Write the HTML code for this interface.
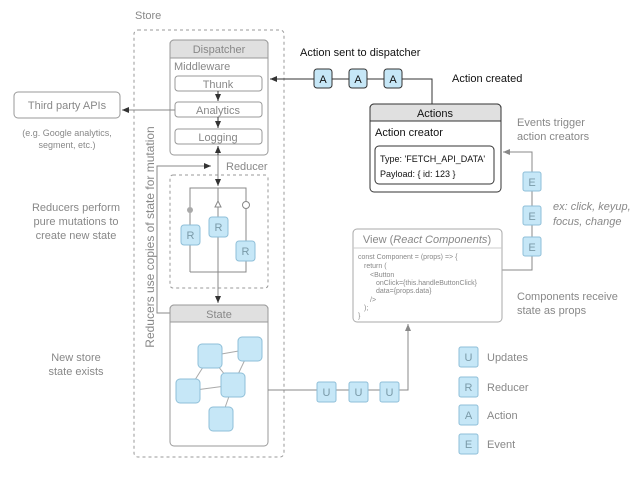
<!DOCTYPE html>
<html><head><meta charset="utf-8"><style>
html,body{margin:0;padding:0;background:#fff}
svg{display:block}
text{font-family:"Liberation Sans",sans-serif}
</style></head><body>
<svg width="642" height="480" viewBox="0 0 642 480" xmlns="http://www.w3.org/2000/svg">
<defs>
<marker id="ar" markerWidth="8" markerHeight="8" refX="7" refY="4" orient="auto" markerUnits="userSpaceOnUse"><path d="M0,1 L7,4 L0,7 z" fill="#333"/></marker>
<marker id="arg" markerWidth="8" markerHeight="8" refX="7" refY="4" orient="auto" markerUnits="userSpaceOnUse"><path d="M0,1 L7,4 L0,7 z" fill="#888"/></marker>
</defs>
<g fill="none" stroke="#999" stroke-width="1">
<rect x="134" y="30" width="150" height="427" rx="4" stroke-dasharray="3,3"/>
<rect x="170" y="175" width="98" height="113" rx="3" stroke-dasharray="3,3"/>
</g>
<text x="135" y="19" font-size="11" fill="#888">Store</text>

<!-- Dispatcher -->
<rect x="170" y="40" width="98" height="115" rx="4" fill="#fff" stroke="#999"/>
<path d="M170,58 V44 a4,4 0 0 1 4,-4 H264 a4,4 0 0 1 4,4 V58 z" fill="#e0e0e0" stroke="#999"/>
<text x="219" y="53" font-size="11" fill="#888" text-anchor="middle">Dispatcher</text>
<text x="174" y="70" font-size="11" fill="#888">Middleware</text>
<g fill="#fff" stroke="#999">
<rect x="175" y="76" width="87" height="15" rx="3"/>
<rect x="175" y="102" width="87" height="15" rx="3"/>
<rect x="175" y="129" width="87" height="15" rx="3"/>
</g>
<g font-size="11" fill="#888" text-anchor="middle">
<text x="218" y="88">Thunk</text><text x="218" y="114">Analytics</text><text x="218" y="141">Logging</text>
</g>
<line x1="218" y1="91" x2="218" y2="101" stroke="#333" marker-end="url(#ar)"/>
<line x1="218" y1="117" x2="218" y2="128" stroke="#333" marker-end="url(#ar)"/>

<!-- third party -->
<rect x="14" y="92" width="106" height="26" rx="4" fill="#fff" stroke="#999"/>
<text x="67" y="109" font-size="11" fill="#888" text-anchor="middle">Third party APIs</text>
<text x="67" y="136" font-size="9" fill="#888" text-anchor="middle">(e.g. Google analytics,</text>
<text x="67" y="148" font-size="9" fill="#888" text-anchor="middle">segment, etc.)</text>
<line x1="175" y1="110" x2="122" y2="110" stroke="#888" marker-end="url(#ar)"/>

<g font-size="11" fill="#888" text-anchor="middle">
<text x="76" y="211">Reducers perform</text><text x="76" y="225">pure mutations to</text><text x="76" y="239">create new state</text>
<text x="76" y="361">New store</text><text x="76" y="375">state exists</text>
</g>
<text transform="translate(154,237) rotate(-90)" font-size="12" fill="#888" text-anchor="middle">Reducers use copies of state for mutation</text>

<!-- Reducer -->
<line x1="218" y1="155" x2="218" y2="146" stroke="#333" marker-end="url(#ar)"/>
<line x1="218" y1="155" x2="218" y2="186" stroke="#888" marker-end="url(#ar)"/>
<polyline points="170,313 157,313 157,166 211,166" fill="none" stroke="#888" marker-end="url(#ar)"/>
<text x="226" y="170" font-size="11" fill="#888">Reducer</text>
<g fill="none" stroke="#888">
<polyline points="190,272 190,188 246,188 246,272 190,272"/>
<line x1="218" y1="188" x2="218" y2="303" marker-end="url(#ar)"/>
</g>
<circle cx="190" cy="210" r="3" fill="#aaa"/>
<path d="M215,207 L218,201 L221,207 z" fill="#fff" stroke="#888"/>
<circle cx="246" cy="205" r="3.5" fill="#fff" stroke="#888"/>
<g fill="#c6e7f7" stroke="#8fbfd8">
<rect x="181" y="225" width="19" height="20" rx="3"/>
<rect x="209" y="217" width="19" height="20" rx="3"/>
<rect x="236" y="241" width="19" height="20" rx="3"/>
</g>
<g font-size="11" fill="#7a9aa8" text-anchor="middle">
<text x="190.5" y="239">R</text><text x="218.5" y="231">R</text><text x="245.5" y="255">R</text>
</g>

<!-- State -->
<rect x="170" y="305" width="98" height="141" rx="4" fill="#fff" stroke="#999"/>
<path d="M170,322 V309 a4,4 0 0 1 4,-4 H264 a4,4 0 0 1 4,4 V322 z" fill="#e0e0e0" stroke="#999"/>
<text x="219" y="318" font-size="11" fill="#888" text-anchor="middle">State</text>
<g stroke="#aaa">
<line x1="210" y1="356" x2="250" y2="349"/>
<line x1="210" y1="356" x2="233" y2="385"/>
<line x1="210" y1="356" x2="188" y2="391"/>
<line x1="250" y1="349" x2="233" y2="385"/>
<line x1="188" y1="391" x2="233" y2="385"/>
<line x1="233" y1="385" x2="221" y2="419"/>
</g>
<g fill="#c6e7f7" stroke="#8fbfd8">
<rect x="198" y="344" width="24" height="24" rx="4"/>
<rect x="238" y="337" width="24" height="24" rx="4"/>
<rect x="176" y="379" width="24" height="24" rx="4"/>
<rect x="221" y="373" width="24" height="24" rx="4"/>
<rect x="209" y="407" width="24" height="24" rx="4"/>
</g>

<!-- updates -->
<polyline points="268,390 408,390 408,324" fill="none" stroke="#888" marker-end="url(#arg)"/>
<g fill="#c6e7f7" stroke="#8fbfd8">
<rect x="317" y="382" width="19" height="20" rx="2"/>
<rect x="349" y="382" width="19" height="20" rx="2"/>
<rect x="380" y="382" width="19" height="20" rx="2"/>
</g>
<g font-size="11" fill="#7a9aa8" text-anchor="middle">
<text x="326.5" y="396">U</text><text x="358.5" y="396">U</text><text x="389.5" y="396">U</text>
</g>

<!-- Actions flow -->
<text x="300" y="56" font-size="11" fill="#111">Action sent to dispatcher</text>
<text x="452" y="82" font-size="11" fill="#111">Action created</text>
<polyline points="432,104 432,79 270,79" fill="none" stroke="#333" marker-end="url(#ar)"/>
<g fill="#c6e7f7" stroke="#333">
<rect x="314" y="69" width="18" height="19" rx="3"/>
<rect x="349" y="69" width="18" height="19" rx="3"/>
<rect x="384" y="69" width="18" height="19" rx="3"/>
</g>
<g font-size="11" fill="#111" text-anchor="middle">
<text x="323" y="83">A</text><text x="358" y="83">A</text><text x="393" y="83">A</text>
</g>
<rect x="370" y="104" width="131" height="88" rx="4" fill="#fff" stroke="#333"/>
<path d="M370,121 V108 a4,4 0 0 1 4,-4 H497 a4,4 0 0 1 4,4 V121 z" fill="#e0e0e0" stroke="#333"/>
<text x="435" y="117" font-size="11" fill="#111" text-anchor="middle">Actions</text>
<text x="375" y="136" font-size="11" fill="#111">Action creator</text>
<rect x="375" y="146" width="119" height="38" rx="4" fill="#fff" stroke="#333"/>
<text x="380" y="162" font-size="9" fill="#111">Type: 'FETCH_API_DATA'</text>
<text x="380" y="177" font-size="9" fill="#111">Payload: { id: 123 }</text>

<text x="517" y="126" font-size="11" fill="#888">Events trigger</text>
<text x="517" y="140" font-size="11" fill="#888">action creators</text>
<polyline points="502,270 532,270 532,152 503,152" fill="none" stroke="#888" marker-end="url(#arg)"/>
<g fill="#c6e7f7" stroke="#8fbfd8">
<rect x="523" y="172" width="18" height="19" rx="2"/>
<rect x="523" y="206" width="18" height="19" rx="2"/>
<rect x="523" y="237" width="18" height="19" rx="2"/>
</g>
<g font-size="11" fill="#7a9aa8" text-anchor="middle">
<text x="532" y="186">E</text><text x="532" y="220">E</text><text x="532" y="251">E</text>
</g>
<text x="553" y="210" font-size="11" fill="#888" font-style="italic">ex: click, keyup,</text>
<text x="553" y="225" font-size="11" fill="#888" font-style="italic">focus, change</text>

<!-- View -->
<rect x="353" y="229" width="149" height="93" rx="4" fill="#fff" stroke="#aaa"/>
<text x="427" y="243" font-size="11" fill="#888" text-anchor="middle">View (<tspan font-style="italic">React Components</tspan>)</text>
<line x1="353" y1="248" x2="502" y2="248" stroke="#ccc"/>
<g font-size="7" fill="#888">
<text x="358" y="259">const Component = (props) =&gt; {</text>
<text x="364" y="268">return (</text>
<text x="370" y="277">&lt;Button</text>
<text x="376" y="285">onClick={this.handleButtonClick}</text>
<text x="376" y="293">data={props.data}</text>
<text x="370" y="302">/&gt;</text>
<text x="364" y="310">);</text>
<text x="358" y="318">}</text>
</g>
<text x="517" y="300" font-size="11" fill="#888">Components receive</text>
<text x="517" y="314" font-size="11" fill="#888">state as props</text>

<!-- legend -->
<g fill="#c6e7f7" stroke="#8fbfd8">
<rect x="459" y="347" width="19" height="20" rx="2"/>
<rect x="459" y="377" width="19" height="20" rx="2"/>
<rect x="459" y="405" width="19" height="20" rx="2"/>
<rect x="459" y="434" width="19" height="20" rx="2"/>
</g>
<g font-size="11" fill="#7a9aa8" text-anchor="middle">
<text x="468.5" y="361">U</text><text x="468.5" y="391">R</text><text x="468.5" y="419">A</text><text x="468.5" y="448">E</text>
</g>
<g font-size="11" fill="#888">
<text x="487" y="361">Updates</text><text x="487" y="391">Reducer</text><text x="487" y="419">Action</text><text x="487" y="448">Event</text>
</g>
</svg>
</body></html>
